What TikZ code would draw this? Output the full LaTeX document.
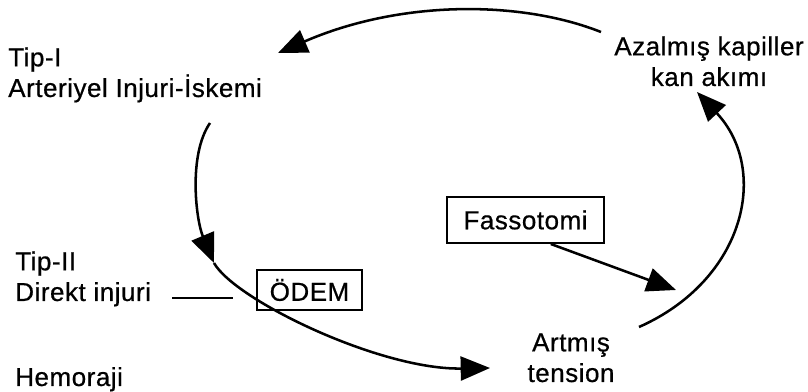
\documentclass[tikz,border=0pt]{standalone}
\usepackage{fontspec}
\setmainfont{Liberation Sans}[LetterSpace=2,FakeBold=0.6]
\usetikzlibrary{arrows.meta}

\begin{document}
\begin{tikzpicture}[
	x=0.75pt, y=-0.75pt,
	txt/.style={ font=\fontsize{19.5pt}{23pt}\selectfont, inner sep=0pt },
	boxed/.style={ txt, draw, line width=1.5pt },
	flow/.style={ line width=1.9pt, -{Triangle[length=22pt,width=18pt]} }
]
\useasboundingbox (0,0) rectangle (808,392);

\node at (8,97) (tipone) [txt, anchor=base west, align=left] {Tip-I\\Arteriyel Injuri-İskemi};
\node at (15,301) (tiptwo) [txt, anchor=base west, align=left] {Tip-II\\Direkt injuri};
\node at (15,386) (hemo) [txt, anchor=base west] {Hemoraji};
\node at (709,86) (azal) [txt, anchor=base, align=center] {Azalmış kapiller\\kan akımı};
\node at (571,382) (artmis) [txt, anchor=base, align=center] {Artmış\\tension};
\node at (309.5,290) (odem) [boxed, minimum width=78.75pt, minimum height=30pt] {ÖDEM};
\node at (525.5,220) (fasso) [boxed, minimum width=117.75pt, minimum height=34.5pt] {Fassotomi};

\coordinate (topstart) at (601,32);
\coordinate (topend) at (278,53);
\coordinate (leftstart) at (210,123);
\coordinate (leftmid) at (214,263);
\coordinate (leftend) at (490,368);
\coordinate (rightstart) at (639,327);
\coordinate (rightend) at (697,92);
\coordinate (fassoend) at (676,290);
\coordinate (direktcut) at (233,298);

\draw[flow] (topstart) .. controls (520,0) and (400,0) .. (topend);
\draw[flow] (leftstart) .. controls (188,155) and (196,220) .. (leftmid);
\draw[flow] (leftmid) .. controls (235,300) and (380,370) .. (leftend);
\draw[flow] (rightstart) .. controls (745,280) and (770,170) .. (rightend);
\draw[flow] ([xshift=19pt]fasso.south) -- (fassoend);
\draw[line width=1.9pt] ([xshift=15.75pt]tiptwo.east |- direktcut) -- (direktcut);

\end{tikzpicture}
\end{document}
